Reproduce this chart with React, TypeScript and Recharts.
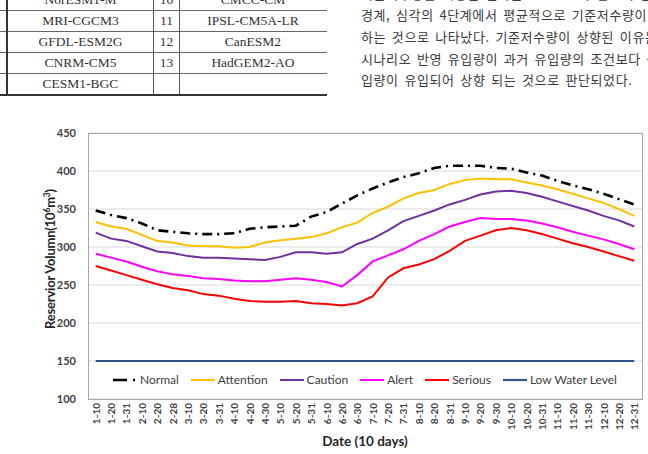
import React from "react";
import { CartesianGrid, Line, LineChart, XAxis, YAxis } from "recharts";

// 10-day periods over the year
const dates = [
  "1-10", "1-20", "1-31", "2-10", "2-20", "2-28", "3-10", "3-20", "3-31",
  "4-10", "4-20", "4-30", "5-10", "5-20", "5-31", "6-10", "6-20", "6-30",
  "7-10", "7-20", "7-31", "8-10", "8-20", "8-31", "9-10", "9-20", "9-30",
  "10-10", "10-20", "10-31", "11-10", "11-20", "11-30", "12-10", "12-20", "12-31",
];

const normal = [
  348, 342, 338, 331, 322, 320, 318, 317, 317, 318, 324, 326, 327, 328, 340, 346, 357, 368,
  377, 385, 392, 397, 404, 407, 407, 407, 404, 403, 398, 394, 387, 381, 376, 370, 363, 356,
];
const attention = [
  333, 327, 324, 316, 308, 306, 302, 301, 301, 299, 300, 306, 309, 311, 313, 318, 326, 332,
  345, 353, 364, 371, 375, 383, 388, 390, 389, 389, 385, 381, 376, 370, 364, 358, 350, 341,
];
const caution = [
  319, 311, 308, 301, 294, 292, 288, 286, 286, 285, 284, 283, 287, 293, 293, 291, 293, 304,
  311, 322, 334, 341, 348, 356, 362, 369, 373, 374, 371, 366, 360, 354, 348, 341, 335, 327,
];
const alert = [
  291, 286, 281, 274, 268, 264, 262, 259, 258, 256, 255, 255, 257, 259, 257, 254, 248, 263,
  281, 289, 297, 308, 317, 327, 333, 338, 337, 337, 335, 331, 326, 320, 315, 310, 304, 297,
];
const serious = [
  275, 269, 263, 257, 251, 246, 243, 238, 236, 232, 229, 228, 228, 229, 226, 225, 223, 226,
  235, 260, 272, 277, 284, 295, 308, 315, 322, 325, 322, 317, 311, 305, 300, 294, 288, 282,
];
const lowWaterLevel = 150;

const yTicks = [100, 150, 200, 250, 300, 350, 400, 450];

// bits of the document page above the figure
const modelRows = [
  ["NorESM1-M", "10", "CMCC-CM"],
  ["MRI-CGCM3", "11", "IPSL-CM5A-LR"],
  ["GFDL-ESM2G", "12", "CanESM2"],
  ["CNRM-CM5", "13", "HadGEM2-AO"],
  ["CESM1-BGC", "", ""],
];
const bodyLines = [
  "기준저수량을 적용한 결과는 Table 6과 같으며 관심, 주의,",
  "경계, 심각의 4단계에서 평균적으로 기준저수량이 상향",
  "하는 것으로 나타났다. 기준저수량이 상향된 이유는 기후변화",
  "시나리오 반영 유입량이 과거 유입량의 조건보다 극한 유",
  "입량이 유입되어 상향 되는 것으로 판단되었다.",
];

const series = [
  { key: "normal", name: "Normal", color: "#000000", width: 2.6, dash: "10 5 2 5" },
  { key: "attention", name: "Attention", color: "#FFC000", width: 2 },
  { key: "caution", name: "Caution", color: "#7030A0", width: 2 },
  { key: "alert", name: "Alert", color: "#FF00FF", width: 2 },
  { key: "serious", name: "Serious", color: "#FF0000", width: 2 },
  { key: "low", name: "Low Water Level", color: "#34528F", width: 2.2 },
];

const chartData = dates.map((date, i) => ({
  date,
  normal: normal[i],
  attention: attention[i],
  caution: caution[i],
  alert: alert[i],
  serious: serious[i],
  low: lowWaterLevel,
}));

const FONT = "Lato, 'Open Sans', sans-serif";
const ROW_TOPS = [-11, 10, 31, 52, 73];
const ROW_H = 21;

function DateTick({ x, y, payload }: any) {
  return (
    <text
      x={x}
      y={y}
      transform={`rotate(-90, ${x}, ${y})`}
      textAnchor="end"
      dominantBaseline="central"
      fontSize={10}
      fontWeight={700}
      fill="#404040"
      fontFamily={FONT}
    >
      {payload.value}
    </text>
  );
}

function ModelTable() {
  const cols = [
    { left: 7, width: 147 },
    { left: 154, width: 25 },
    { left: 179, width: 148 },
  ];
  return (
    <>
      {ROW_TOPS.map((top, r) => (
        <React.Fragment key={r}>
          {cols.map((c, ci) => (
            <div
              key={ci}
              style={{
                position: "absolute",
                left: c.left,
                top,
                width: c.width,
                height: ROW_H,
                lineHeight: `${ROW_H}px`,
                textAlign: "center",
                fontFamily: "'Liberation Serif', serif",
                fontSize: 13.5,
                color: "#333",
              }}
            >
              {modelRows[r][ci]}
            </div>
          ))}
          <div
            style={{
              position: "absolute",
              left: 0,
              top: top + ROW_H,
              width: 327,
              height: r === ROW_TOPS.length - 1 ? 2 : 1,
              background: r === ROW_TOPS.length - 1 ? "#333" : "#666",
            }}
          />
        </React.Fragment>
      ))}
      <div style={{ position: "absolute", left: 6, top: 0, width: 2, height: 94, background: "#333" }} />
      <div style={{ position: "absolute", left: 153, top: 0, width: 1, height: 94, background: "#555" }} />
      <div style={{ position: "absolute", left: 179, top: 0, width: 1, height: 94, background: "#555" }} />
    </>
  );
}

function LegendSample({ color, dash, width }: { color: string; dash?: string; width: number }) {
  return (
    <svg width={24} height={10} style={{ display: "block" }}>
      <line x1={0} x2={24} y1={5} y2={5} stroke={color} strokeWidth={width} strokeDasharray={dash ? "14 6 2 4" : undefined} />
    </svg>
  );
}

export default function App() {
  return (
    <div
      style={{
        position: "absolute",
        left: 0,
        top: 0,
        width: 648,
        height: 454,
        overflow: "hidden",
        background: "#fff",
      }}
    >
      <ModelTable />

      {/* body text to the right of the table */}
      <div
        style={{
          position: "absolute",
          left: 361,
          top: -17.5,
          fontFamily: "'Noto Sans CJK KR', sans-serif",
          fontSize: 13,
          lineHeight: "21.7px",
          letterSpacing: 0.6,
          wordSpacing: 2.2,
          color: "#3a3a3a",
          whiteSpace: "nowrap",
        }}
      >
        {bodyLines.map((t, i) => (
          <div key={i}>{t}</div>
        ))}
      </div>

      <div style={{ position: "absolute", left: 0, top: 120 }}>
        <LineChart
          width={648}
          height={334}
          data={chartData}
          margin={{ top: 13, right: 6, left: 28, bottom: 0 }}
        >
          <CartesianGrid horizontal vertical={false} stroke="#D9D9D9" strokeWidth={1} />
          <XAxis
            dataKey="date"
            interval={0}
            padding={{ left: 7.7, right: 7.7 }}
            axisLine={false}
            tickLine={false}
            tickSize={0}
            tickMargin={4}
            height={55}
            tick={<DateTick />}
          />
          <YAxis
            domain={[100, 450]}
            ticks={yTicks}
            interval={0}
            width={60}
            axisLine={false}
            tickLine={false}
            tickSize={0}
            tickMargin={12}
            tick={{ fontSize: 11, fontWeight: 700, fill: "#404040", fontFamily: FONT }}
          />
          {series.map((s) => (
            <Line
              key={s.key}
              type="linear"
              dataKey={s.key}
              name={s.name}
              stroke={s.color}
              strokeWidth={s.width}
              strokeDasharray={s.dash}
              dot={false}
              activeDot={false}
              isAnimationActive={false}
            />
          ))}
        </LineChart>
      </div>

      {/* plot area frame */}
      <div
        style={{
          position: "absolute",
          left: 88,
          top: 133,
          width: 553,
          height: 265,
          border: "1px solid #A6A6A6",
          pointerEvents: "none",
        }}
      />

      {/* legend, inside the plot area */}
      <div
        style={{
          position: "absolute",
          left: 113,
          top: 372,
          display: "flex",
          alignItems: "center",
          gap: 12,
          fontFamily: FONT,
          fontSize: 12,
          color: "#404040",
          whiteSpace: "nowrap",
        }}
      >
        {series.map((s) => (
          <div key={s.key} style={{ display: "flex", alignItems: "center", gap: 3 }}>
            <LegendSample color={s.color} dash={s.dash} width={s.width} />
            <span>{s.name}</span>
          </div>
        ))}
      </div>

      <div
        style={{
          position: "absolute",
          left: 50,
          top: 259,
          transform: "translate(-50%, -50%) rotate(-90deg)",
          fontFamily: FONT,
          fontWeight: 700,
          fontSize: 13,
          letterSpacing: -0.2,
          color: "#262626",
          whiteSpace: "nowrap",
          lineHeight: "16px",
        }}
      >
        Reservior Volumn(10<sup style={{ fontSize: 8.5, lineHeight: 0 }}>6</sup>m
        <sup style={{ fontSize: 8.5, lineHeight: 0 }}>3</sup>)
      </div>

      <div
        style={{
          position: "absolute",
          left: 365,
          top: 441,
          transform: "translate(-50%, -50%)",
          fontFamily: FONT,
          fontWeight: 700,
          fontSize: 13.5,
          color: "#262626",
          whiteSpace: "nowrap",
        }}
      >
        Date (10 days)
      </div>
    </div>
  );
}
